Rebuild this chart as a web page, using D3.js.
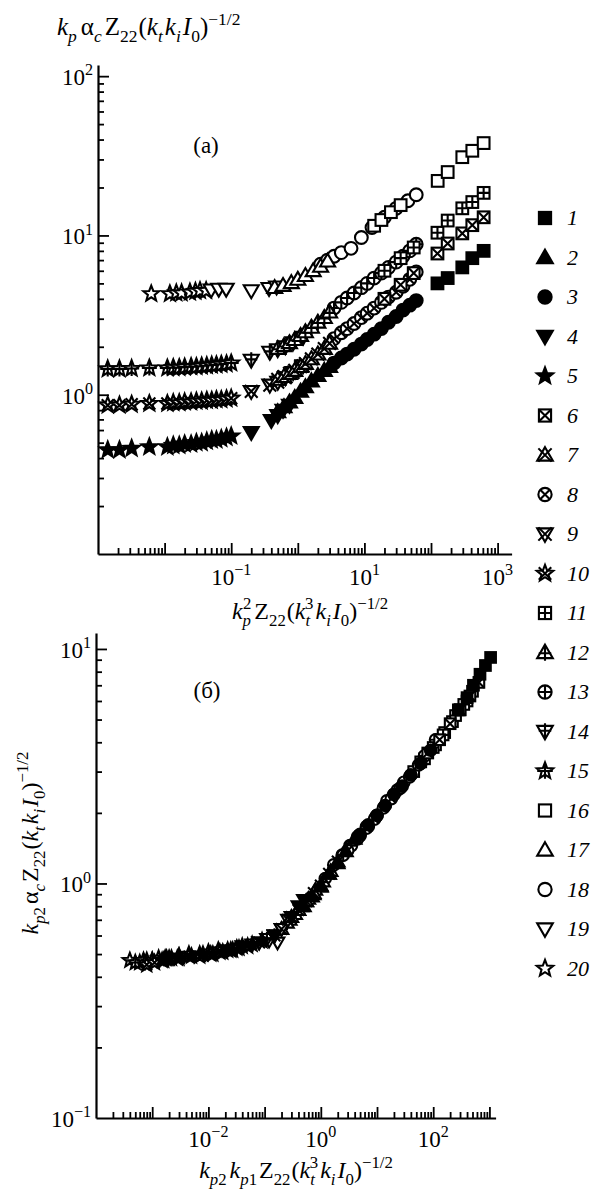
<!DOCTYPE html>
<html>
<head>
<meta charset="utf-8">
<script src="https://cdn.jsdelivr.net/npm/d3@7"></script>
<style>
  body { margin: 0; background: #fff; }
</style>
</head>
<body>
<div id="chart"></div>
<script>
const width = 599;
const height = 1189;
const serif = "'Liberation Serif', 'Times New Roman', serif";

// ---- panel (a): [x, y], series 1..20 ----
const a1 = [[125, 5.0], [178, 5.4], [295, 6.3], [417, 7.2], [617, 8.0]];
const a2 = [[0.5, 0.78], [0.62, 0.84], [0.75, 0.9], [0.9, 0.96], [1.1, 1.05], [1.3, 1.12], [1.6, 1.22], [2.0, 1.32], [2.5, 1.42], [3.0, 1.5]];
const a3 = [[3.5, 1.58], [4.5, 1.7], [5.5, 1.8], [7, 1.93], [9, 2.08], [11, 2.22], [14, 2.4], [18, 2.6], [23, 2.85], [30, 3.1], [38, 3.4], [48, 3.65], [60, 3.9]];
const a4 = [[0.2, 0.58], [0.4, 0.69], [0.5, 0.74], [0.6, 0.8], [0.75, 0.86]];
const a5 = [[0.0014, 0.45], [0.0021, 0.45], [0.0032, 0.46], [0.0059, 0.47], [0.011, 0.47], [0.0135, 0.48], [0.0166, 0.48], [0.02, 0.49], [0.025, 0.49], [0.03, 0.5], [0.036, 0.5], [0.043, 0.51], [0.051, 0.52], [0.06, 0.52], [0.071, 0.53], [0.085, 0.54], [0.1, 0.55]];
const a6 = [[20, 4.0], [35, 4.9], [55, 5.8], [125, 7.7], [178, 8.9], [295, 10.3], [417, 11.6], [617, 13]];
const a7 = [[0.5, 1.25], [0.62, 1.3], [0.75, 1.36], [0.9, 1.42], [1.1, 1.5], [1.3, 1.57], [1.6, 1.68], [2.0, 1.8], [2.5, 1.95], [3.0, 2.1]];
const a8 = [[3.5, 2.25], [4.5, 2.45], [5.5, 2.6], [7, 2.8], [9, 3.05], [11, 3.25], [14, 3.5], [18, 3.8], [23, 4.1], [30, 4.4], [38, 4.8], [48, 5.3], [60, 5.9]];
const a9 = [[0.2, 1.05], [0.38, 1.15], [0.5, 1.2], [0.65, 1.28], [0.85, 1.38], [1.2, 1.52]];
const a10 = [[0.0014, 0.86], [0.0021, 0.86], [0.0032, 0.87], [0.0059, 0.88], [0.011, 0.88], [0.0135, 0.89], [0.0166, 0.89], [0.02, 0.9], [0.025, 0.9], [0.03, 0.91], [0.036, 0.91], [0.043, 0.92], [0.051, 0.92], [0.06, 0.93], [0.071, 0.93], [0.085, 0.94], [0.1, 0.95]];
const a11 = [[20, 6.0], [35, 7.2], [55, 8.4], [125, 10.4], [178, 12.4], [295, 14.8], [417, 16.2], [617, 18.5]];
const a12 = [[0.5, 1.95], [0.62, 2.03], [0.75, 2.12], [0.9, 2.22], [1.1, 2.35], [1.3, 2.48], [1.6, 2.65], [2.0, 2.85], [2.5, 3.05], [3.0, 3.3]];
const a13 = [[3.5, 3.5], [4.5, 3.8], [5.5, 4.05], [7, 4.35], [9, 4.7], [11, 5.0], [14, 5.4], [18, 5.8], [23, 6.3], [30, 6.8], [38, 7.4], [48, 8.0], [60, 8.8]];
const a14 = [[0.2, 1.65], [0.38, 1.85], [0.5, 1.92], [0.65, 2.0], [0.85, 2.12], [1.2, 2.3]];
const a15 = [[0.0014, 1.45], [0.0021, 1.45], [0.0032, 1.46], [0.0059, 1.47], [0.011, 1.47], [0.0135, 1.48], [0.0166, 1.48], [0.02, 1.49], [0.025, 1.5], [0.03, 1.5], [0.036, 1.51], [0.043, 1.52], [0.051, 1.53], [0.06, 1.54], [0.071, 1.55], [0.085, 1.56], [0.1, 1.58]];
const a16 = [[14, 11.5], [18, 12.5], [25, 14], [35, 15.5], [126, 22], [178, 25], [295, 31], [417, 34], [617, 38]];
const a17 = [[0.45, 4.7], [0.6, 4.85], [0.8, 5.05], [1.0, 5.3], [1.3, 5.6], [1.7, 6.0], [2.2, 6.4], [2.8, 6.9]];
const a18 = [[2.2, 6.6], [2.8, 7.0], [3.5, 7.4], [4.5, 7.8], [6.3, 8.3], [9, 9.7], [13, 11.2], [20, 13], [30, 14.8], [45, 16.5], [60, 18]];
const a19 = [[0.05, 4.55], [0.065, 4.6], [0.084, 4.6], [0.2, 4.5], [0.37, 4.65], [0.48, 4.75]];
const a20 = [[0.0063, 4.3], [0.012, 4.3], [0.015, 4.35], [0.018, 4.35], [0.024, 4.4], [0.029, 4.45], [0.034, 4.5], [0.042, 4.5]];

// ---- panel (б) ----
const b1 = [[280, 5.5], [400, 6.2], [520, 7.0], [680, 7.8], [850, 8.5], [1050, 9.2]];
const b2 = [[0.5, 0.8], [0.7, 0.88], [1.0, 0.97], [1.4, 1.1], [2.0, 1.22], [2.8, 1.37], [4.0, 1.55]];
const b3 = [[5, 1.62], [7, 1.78], [10, 1.95], [14, 2.15], [20, 2.4], [28, 2.6], [40, 2.9], [60, 3.25], [90, 3.7]];
const b4 = [[0.15, 0.6], [0.3, 0.72], [0.4, 0.8], [0.5, 0.85]];
const b5 = [[0.0015, 0.47], [0.002, 0.48], [0.003, 0.48], [0.005, 0.49], [0.008, 0.5], [0.012, 0.5], [0.018, 0.51], [0.027, 0.52], [0.04, 0.54], [0.06, 0.55], [0.09, 0.57]];
const b6 = [[80, 3.6], [130, 4.1], [200, 4.8], [300, 5.5], [450, 6.3], [650, 7.2]];
const b7 = [[0.3, 0.72], [0.4, 0.77], [0.55, 0.84], [0.75, 0.91], [1.0, 0.98], [1.4, 1.1], [2.0, 1.24]];
const b8 = [[3, 1.38], [4.5, 1.55], [6.5, 1.72], [9, 1.88], [13, 2.1], [18, 2.3], [26, 2.55], [38, 2.85], [55, 3.2]];
const b9 = [[0.08, 0.56], [0.15, 0.6], [0.2, 0.64], [0.26, 0.7]];
const b10 = [[0.0008, 0.45], [0.0011, 0.46], [0.0016, 0.47], [0.0028, 0.48], [0.0045, 0.49], [0.007, 0.49], [0.011, 0.5], [0.016, 0.51], [0.025, 0.52], [0.035, 0.53], [0.05, 0.54]];
const b11 = [[60, 3.3], [100, 3.8], [150, 4.3], [250, 5.2], [350, 5.8], [500, 6.6]];
const b12 = [[0.25, 0.68], [0.35, 0.74], [0.45, 0.8], [0.6, 0.86], [0.8, 0.94], [1.1, 1.02], [1.5, 1.13]];
const b13 = [[2.5, 1.32], [3.5, 1.45], [5, 1.6], [7, 1.75], [10, 1.95], [15, 2.25], [23, 2.5], [40, 2.9], [70, 3.5], [110, 4.1]];
const b14 = [[0.06, 0.55], [0.11, 0.58], [0.15, 0.6], [0.2, 0.64]];
const b15 = [[0.0005, 0.46], [0.0007, 0.47], [0.001, 0.47], [0.0018, 0.48], [0.003, 0.49], [0.0045, 0.5], [0.007, 0.5], [0.01, 0.51], [0.015, 0.52], [0.022, 0.52], [0.032, 0.53]];
const b16 = [[45, 3.0], [70, 3.4], [110, 3.9], [160, 4.4], [220, 4.9], [300, 5.5], [400, 6.0]];
const b17 = [[0.2, 0.64], [0.28, 0.7], [0.4, 0.77], [0.55, 0.84], [0.75, 0.9], [1.0, 0.97]];
const b18 = [[1.2, 1.05], [1.7, 1.2], [2.4, 1.32], [3.3, 1.45], [4.5, 1.58], [6.5, 1.75], [9.5, 1.92], [14, 2.15], [20, 2.4], [30, 2.7]];
const b19 = [[0.02, 0.52], [0.04, 0.54], [0.08, 0.56], [0.12, 0.57], [0.17, 0.56]];
const b20 = [[0.0004, 0.47], [0.0006, 0.46], [0.0008, 0.47], [0.001, 0.47], [0.0013, 0.48], [0.0017, 0.48], [0.0022, 0.48], [0.003, 0.49]];

const seriesA = [a1, a2, a3, a4, a5, a6, a7, a8, a9, a10, a11, a12, a13, a14, a15, a16, a17, a18, a19, a20];
const seriesB = [b1, b2, b3, b4, b5, b6, b7, b8, b9, b10, b11, b12, b13, b14, b15, b16, b17, b18, b19, b20];
const legendLabels = ["1", "2", "3", "4", "5", "6", "7", "8", "9", "10", "11", "12", "13", "14", "15", "16", "17", "18", "19", "20"];
const shapeNames = ["square", "triUp", "circle", "triDown", "star"];
const styleNames = ["filled", "cross", "plus", "open"];

const aXLabels = [[1e-1, "−1"], [1e1, "1"], [1e3, "3"]];
const aYLabels = [[1, "0"], [10, "1"], [100, "2"]];
const bXLabels = [[1e-2, "−2"], [1, "0"], [1e2, "2"]];
const bYLabels = [[0.1, "−1"], [1, "0"], [10, "1"]];

const svg = d3.select("#chart").append("svg")
    .attr("width", width)
    .attr("height", height)
    .style("background", "#fff");

// scales
const xA = d3.scaleLog().domain([1e-3, Math.pow(10, 3.21)]).range([98, 511.6]);
const yA = d3.scaleLog().domain([0.1, Math.pow(10, 2.07)]).range([554, 65]);
const xB = d3.scaleLog().domain([1e-4, Math.pow(10, 3.11)]).range([96, 495.6]);
const yB = d3.scaleLog().domain([0.1, Math.pow(10, 1.068)]).range([1118, 633]);

// parts: [text, 0 normal | 1 sub | 2 sup, italic, dx]
function rich(parent, x, y, parts, size, anchor) {
    const t = parent.append("text")
        .attr("x", x).attr("y", y)
        .attr("font-family", serif)
        .attr("font-size", size)
        .attr("text-anchor", anchor || "start")
        .attr("fill", "#000");
    let cur = 0;
    parts.forEach(p => {
        const [str, mode, ital, dx] = p;
        const off = mode === 1 ? size * 0.28 : mode === 2 ? -size * 0.42 : 0;
        const ts = t.append("tspan")
            .attr("dy", off - cur)
            .attr("font-size", mode ? size * 0.7 : size)
            .attr("font-style", ital ? "italic" : "normal")
            .text(str);
        if (dx) ts.attr("dx", dx);
        cur = off;
    });
    return t;
}

function starPath(ro, ri) {
    let d = "";
    for (let k = 0; k < 10; k++) {
        const ang = -Math.PI / 2 + k * Math.PI / 5;
        const rr = k % 2 ? ri : ro;
        d += (k ? "L" : "M") + (rr * Math.cos(ang)).toFixed(2) + "," + (rr * Math.sin(ang)).toFixed(2);
    }
    return d + "Z";
}

function drawMarker(g, idx, r, sw) {
    const shape = shapeNames[idx % 5];
    const style = styleNames[Math.floor(idx / 5)];
    let el, c = r * 0.8, pv = [-r, r], ph = [-r, r], hy = 0;
    if (shape === "square") {
        const s = r * 0.78;
        el = g.append("rect").attr("x", -s).attr("y", -s).attr("width", 2 * s).attr("height", 2 * s);
        c = s; pv = [-s, s]; ph = [-s, s];
    } else if (shape === "circle") {
        const cr = r * 0.85;
        el = g.append("circle").attr("r", cr);
        c = cr * 0.72; pv = [-cr, cr]; ph = [-cr, cr];
    } else if (shape === "triUp") {
        el = g.append("path").attr("d", `M0,${-r}L${r},${r * 0.72}L${-r},${r * 0.72}Z`);
        c = r * 0.85; pv = [-r, r * 1.05]; ph = [-r * 0.8, r * 0.8]; hy = r * 0.1;
    } else if (shape === "triDown") {
        el = g.append("path").attr("d", `M0,${r}L${r},${-r * 0.72}L${-r},${-r * 0.72}Z`);
        c = r * 0.85; pv = [-r * 1.05, r]; ph = [-r * 0.8, r * 0.8]; hy = -r * 0.1;
    } else {
        el = g.append("path").attr("d", starPath(r * 1.1, r * 0.47));
        c = r * 0.8;
    }
    el.attr("fill", style === "filled" ? "#000" : "#fff")
        .attr("stroke", "#000")
        .attr("stroke-width", sw)
        .attr("stroke-linejoin", "miter");
    if (style === "cross") {
        g.append("path").attr("d", `M${-c},${-c}L${c},${c}M${-c},${c}L${c},${-c}`)
            .attr("stroke", "#000").attr("stroke-width", sw).attr("fill", "none");
    } else if (style === "plus") {
        g.append("path").attr("d", `M0,${pv[0]}L0,${pv[1]}M${ph[0]},${hy}L${ph[1]},${hy}`)
            .attr("stroke", "#000").attr("stroke-width", sw).attr("fill", "none");
    }
}

function drawAxes(x, y, xLabels, yLabels, xLabelY) {
    const left = x.range()[0];
    const bottom = y.range()[0];
    const xt = x.ticks(30).filter(v => v > x.domain()[0] * 1.01);
    const yt = y.ticks(30).filter(v => v > y.domain()[0] * 1.01);
    const isMajor = v => Math.abs(Math.log10(v) - Math.round(Math.log10(v))) < 1e-6;

    const gx = svg.append("g").attr("transform", `translate(0,${bottom})`);
    gx.append("g").call(d3.axisBottom(x).tickValues(xt.filter(v => !isMajor(v))).tickSize(-6).tickSizeOuter(0).tickFormat(""));
    gx.append("g").call(d3.axisBottom(x).tickValues(xt.filter(isMajor)).tickSize(-11).tickSizeOuter(0).tickFormat(""))
        .select(".domain").remove();

    const gy = svg.append("g").attr("transform", `translate(${left},0)`);
    gy.append("g").call(d3.axisLeft(y).tickValues(yt.filter(v => !isMajor(v))).tickSize(-6).tickSizeOuter(0).tickFormat(""));
    gy.append("g").call(d3.axisLeft(y).tickValues(yt.filter(isMajor)).tickSize(-11).tickSizeOuter(0).tickFormat(""))
        .select(".domain").remove();

    svg.selectAll(".domain").attr("stroke", "#000").attr("stroke-width", 2.2);
    svg.selectAll(".tick line").attr("stroke", "#000").attr("stroke-width", 1.8);

    xLabels.forEach(([v, e]) => {
        rich(svg, x(v), xLabelY, [["10", 0, 0], [e, 2, 0]], 23, "middle");
    });
    yLabels.forEach(([v, e]) => {
        rich(svg, left - 5, y(v) + 9, [["10", 0, 0], [e, 2, 0]], 23, "end");
    });
}

function drawPoints(series, x, y, r, sw) {
    for (let i = series.length - 1; i >= 0; i--) {
        const g = svg.append("g").attr("class", "series-" + (i + 1));
        series[i].forEach(d => {
            const m = g.append("g").attr("transform", `translate(${x(d[0])},${y(d[1])})`);
            drawMarker(m, i, r, sw);
        });
    }
}

// panel (a)
drawAxes(xA, yA, aXLabels, aYLabels, 585);
drawPoints(seriesA, xA, yA, 7.5, 2.1);

// panel (б)
drawAxes(xB, yB, bXLabels, bYLabels, 1147);
drawPoints(seriesB, xB, yB, 6.8, 2.1);

// axis titles
rich(svg, 57, 35, [["k", 0, 1], ["p", 1, 1], ["α", 0, 0, 4], ["c", 1, 1], ["Z", 0, 0, 3], ["22", 1, 0], ["(", 0, 0, 1], ["k", 0, 1], ["t", 1, 1], ["k", 0, 1, 2], ["i", 1, 1], ["I", 0, 1, 2], ["0", 1, 0], [")", 0, 0], ["−1/2", 2, 0]], 25);

rich(svg, 310, 619, [["k", 0, 1], ["p", 1, 1], ["2", 2, 0, -8], ["Z", 0, 0, 3], ["22", 1, 0], ["(", 0, 0, 1], ["k", 0, 1], ["t", 1, 1], ["3", 2, 0, -5], ["k", 0, 1, 2], ["i", 1, 1], ["I", 0, 1, 2], ["0", 1, 0], [")", 0, 0], ["−1/2", 2, 0]], 24, "middle");

rich(svg, 296, 1178, [["k", 0, 1], ["p", 1, 1], ["2", 1, 0], ["k", 0, 1, 3], ["p", 1, 1], ["1", 1, 0], ["Z", 0, 0, 2], ["22", 1, 0], ["(", 0, 0, 1], ["k", 0, 1], ["t", 1, 1], ["3", 2, 0, -5], ["k", 0, 1, 2], ["i", 1, 1], ["I", 0, 1, 2], ["0", 1, 0], [")", 0, 0], ["−1/2", 2, 0]], 24, "middle");

const yLab = svg.append("g").attr("transform", "translate(38,843) rotate(-90)");
rich(yLab, 0, 0, [["k", 0, 1], ["p", 1, 1], ["2", 1, 0], ["α", 0, 0, 3], ["c", 1, 1], ["Z", 0, 0, 2], ["22", 1, 0], ["(", 0, 0, 1], ["k", 0, 1], ["t", 1, 1], ["k", 0, 1, 2], ["i", 1, 1], ["I", 0, 1, 2], ["0", 1, 0], [")", 0, 0], ["−1/2", 2, 0]], 24, "middle");

svg.append("text").attr("x", 206).attr("y", 153).attr("font-family", serif).attr("font-size", 23)
    .attr("text-anchor", "middle").text("(a)");
svg.append("text").attr("x", 207).attr("y", 698).attr("font-family", serif).attr("font-size", 23)
    .attr("text-anchor", "middle").text("(б)");

// legend
const legend = svg.append("g").attr("class", "legend");
legendLabels.forEach((lab, i) => {
    const yy = 218 + i * 39.5;
    const m = legend.append("g").attr("transform", `translate(545,${yy})`);
    drawMarker(m, i, 7.8, 2.1);
    legend.append("text")
        .attr("x", 567).attr("y", yy + 7)
        .attr("font-family", serif)
        .attr("font-size", 22)
        .attr("font-style", "italic")
        .text(lab);
});
</script>
</body>
</html>
